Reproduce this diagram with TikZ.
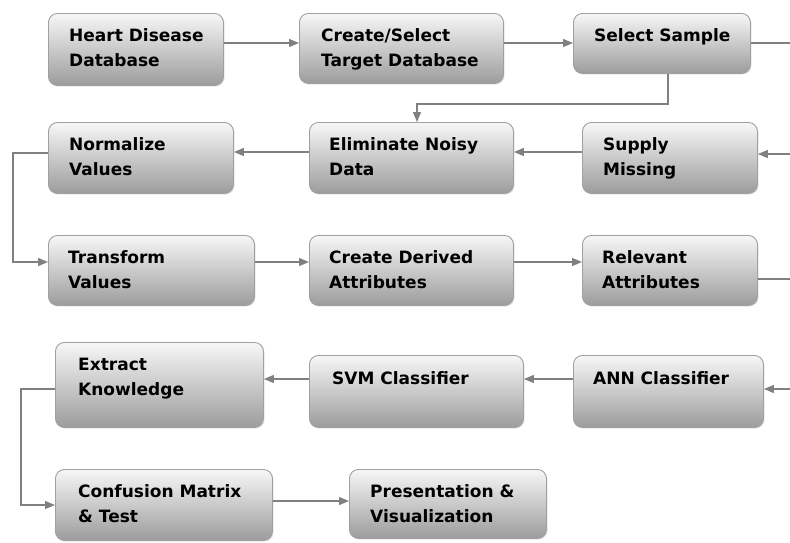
\documentclass[tikz,border=0pt]{standalone}
\usepackage{fontspec}
\setmainfont{DejaVu Sans}
\usetikzlibrary{arrows.meta,shadows}
\definecolor{boxedge}{HTML}{A0A0A0}
\definecolor{boxtop}{HTML}{F7F7F7}
\definecolor{boxbot}{HTML}{9C9C9C}
\definecolor{linegray}{HTML}{808080}
% #1 name, #2 left, #3 top, #4 right, #5 bottom, #6 text x offset, #7 baseline of last line below top, #8 text
\newcommand\flowbox[8]{%
  \pgfmathsetmacro\flowbw{#4-#2}%
  \pgfmathsetmacro\flowbh{#5-#3}%
  \node[box, anchor=north west, minimum width=\flowbw pt, minimum height=\flowbh pt] (#1) at (#2,#3) {};
  \node[txt, anchor=base west] (#1-t) at ([xshift=#6pt,yshift=-#7pt]#1.north west) {#8};}
\begin{document}
\begin{tikzpicture}[x=1pt,y=-1pt,
  box/.style={draw=boxedge, line width=0.9pt, rounded corners=9pt,
    top color=boxtop, bottom color=boxbot, inner sep=0pt,
    drop shadow={opacity=0.2, shadow xshift=1.2pt, shadow yshift=-1.2pt}},
  txt/.style={inner sep=0pt, align=left, text=black,
    font=\fontsize{17}{25}\selectfont\bfseries},
  conn/.style={draw=linegray, line width=1.3pt},
  arr/.style={conn, -{Triangle[length=10pt,width=8pt]}}]
\useasboundingbox (0,0) rectangle (790,542);
% boxes
\flowbox{hd}{48}{13}{223}{85}{21}{53}{Heart Disease\\Database}
\flowbox{cs}{299}{13}{503}{83}{22}{53}{Create/Select\\Target Database}
\flowbox{ss}{573}{13}{750}{73}{21}{28}{Select Sample}
\flowbox{nv}{48}{122}{233}{193}{21}{53}{Normalize\\Values}
\flowbox{en}{309}{122}{513}{193}{20}{53}{Eliminate Noisy\\Data}
\flowbox{sm}{582}{122}{757}{193}{21}{53}{Supply\\Missing}
\flowbox{tv}{48}{235}{254}{305}{20}{53}{Transform\\Values}
\flowbox{cd}{309}{235}{513}{305}{20}{53}{Create Derived\\Attributes}
\flowbox{ra}{582}{235}{757}{305}{20}{53}{Relevant\\Attributes}
\flowbox{ek}{55}{342}{263}{427}{23}{53}{Extract\\Knowledge}
\flowbox{svm}{309}{355}{523}{427}{23}{29}{SVM Classifier}
\flowbox{ann}{573}{355}{763}{427}{20}{29}{ANN Classifier}
\flowbox{cm}{55}{469}{272}{540}{23}{53}{Confusion Matrix\\\& Test}
\flowbox{pv}{349}{469}{546}{538}{21}{53}{Presentation \&\\Visualization}
% helper levels
\coordinate (y43) at (0,43);
\coordinate (y152) at (0,152);
\coordinate (y153) at (0,153);
\coordinate (y262) at (0,262);
\coordinate (y379) at (0,379);
\coordinate (y389) at (0,389);
\coordinate (y505) at (0,505);
\coordinate (y501) at (0,501);
\coordinate (k668) at (668,0);
\coordinate (k417) at (417,0);
\coordinate (k13) at (13,0);
\coordinate (k21) at (21,0);
\coordinate (eR1) at (790,43);
\coordinate (eR2) at (790,154);
\coordinate (eR3) at (790,279);
\coordinate (eR4) at (790,389);
% connectors
\draw[arr] (hd.east |- y43) -- (cs.west |- y43);
\draw[arr] (cs.east |- y43) -- (ss.west |- y43);
\draw[conn] (ss.east |- y43) -- (eR1);
\draw[arr] (ss.south -| k668) -- ++(0,30) -| (en.north -| k417);
\draw[arr] (eR2) -- (sm.east |- eR2);
\draw[arr] (sm.west |- y152) -- (en.east |- y152);
\draw[arr] (en.west |- y152) -- (nv.east |- y152);
\draw[arr] (nv.west |- y153) -- (k13 |- y153) -- (k13 |- y262) -- (tv.west |- y262);
\draw[arr] (tv.east |- y262) -- (cd.west |- y262);
\draw[arr] (cd.east |- y262) -- (ra.west |- y262);
\draw[conn] (ra.east |- eR3) -- (eR3);
\draw[arr] (eR4) -- (ann.east |- eR4);
\draw[arr] (ann.west |- y379) -- (svm.east |- y379);
\draw[arr] (svm.west |- y379) -- (ek.east |- y379);
\draw[arr] (ek.west |- y389) -- (k21 |- y389) -- (k21 |- y505) -- (cm.west |- y505);
\draw[arr] (cm.east |- y501) -- (pv.west |- y501);
\end{tikzpicture}
\end{document}
